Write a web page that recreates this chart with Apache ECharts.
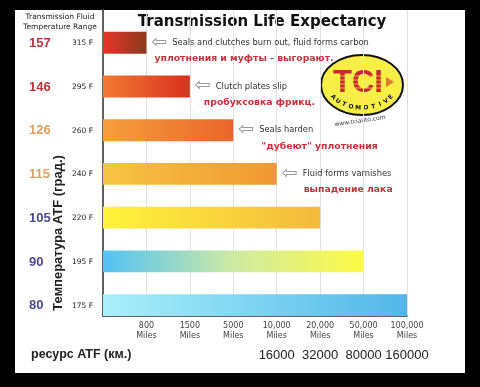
<!DOCTYPE html>
<html><head><meta charset="utf-8">
<script src="https://cdn.jsdelivr.net/npm/echarts@6/dist/echarts.min.js"></script>
<style>html,body{margin:0;padding:0;background:#000}#c{width:480px;height:387px}</style>
</head><body><div id="c"></div>
<script>
// ---- data ----
const tempC = ['157', '146', '126', '115', '105', '90', '80'];
const tempF = ['315 F', '295 F', '260 F', '240 F', '220 F', '195 F', '175 F'];
const mileTicks = ['800', '1500', '5000', '10,000', '20,000', '50,000', '100,000'];
const kmTicks = ['', '', '', '16000', '32000', '80000', '160000'];
const lifeMiles = ['800', '1500', '5000', '10,000', '20,000', '50,000', '100,000'];
const notesEn = ['Seals and clutches burn out, fluid forms carbon', 'Clutch plates slip', 'Seals harden', 'Fluid forms varnishes', '', '', ''];
const notesRu = ['уплотнения и муфты - выгорают.', 'пробуксовка фрикц.', '"дубеют" уплотнения', 'выпадение лака', '', '', ''];

// ---- styles ----
const barGrad = [
  ['#e8352a', '#8a3a1c'],
  ['#f27a34', '#d8301f'],
  ['#f5a03c', '#ea652b'],
  ['#f6c445', '#f09832'],
  ['#fff43c', '#f4b93c'],
  ['#52c2f5', '#cfe9a5', '#fdfb45'],
  ['#aaf0fa', '#52b6e8']
];
const cStyle = ['hot', 'hot', 'warm', 'warm', 'cool', 'cool', 'cool'];
const redIndent = [3, 9, 23, 22, 0, 0, 0];

function grad(cols) {
  return new echarts.graphic.LinearGradient(0, 0, 1, 0,
    cols.map((c, k) => ({ offset: k / (cols.length - 1), color: c })));
}

const chart = echarts.init(document.getElementById('c'), null, { renderer: 'canvas' });

const barData = lifeMiles.map((m, i) => {
  const item = { value: mileTicks.indexOf(m) + 1, itemStyle: { color: grad(barGrad[i]) } };
  if (notesEn[i]) {
    item.label = {
      show: true, position: 'right', distance: 5, offset: [0, 8],
      formatter: '{a|⇦}{t|' + notesEn[i] + '}\n{p| }{r|' + notesRu[i] + '}',
      rich: {
        a: { fontSize: 19, color: '#9a9a9a', lineHeight: 16, fontFamily: 'DejaVu Sans' },
        t: { fontSize: 8.3, color: '#333', lineHeight: 16, padding: [0, 0, 0, 5], fontFamily: 'DejaVu Sans' },
        p: { width: redIndent[i], lineHeight: 16, fontSize: 8 },
        r: { fontSize: 9.3, fontWeight: 'bold', color: '#c8303c', lineHeight: 16, fontFamily: 'DejaVu Sans' }
      }
    };
  }
  return item;
});

// arc letters for logo
const logoCx = 362, logoCy = 85;
const auto = 'AUTOMOTIVE'.split('');
const arcEls = auto.map((ch, k) => {
  const th = (148 - k * (116 / (auto.length - 1))) * Math.PI / 180;
  const x = logoCx + 34 * Math.cos(th);
  const y = logoCy + 23 * Math.sin(th);
  const tx = -34 * Math.sin(th), ty = 23 * Math.cos(th);
  const ang = Math.atan2(ty, tx);
  return {
    type: 'text', x: x, y: y, rotation: -(ang + Math.PI),
    style: { text: ch, fill: '#111', font: 'bold 6px "DejaVu Sans"', align: 'center', verticalAlign: 'middle' }
  };
});

const option = {
  backgroundColor: '#000',
  animation: false,
  grid: { left: 103, right: 73, top: 10, bottom: 71, containLabel: false },
  xAxis: [
    {
      type: 'value', min: 0, max: 7, interval: 1,
      axisLine: { show: true, lineStyle: { color: '#333', width: 1.5 } },
      axisTick: { show: false },
      splitLine: { show: true, lineStyle: { color: '#e2e2e2' } },
      axisLabel: {
        margin: 5, showMaxLabel: true, showMinLabel: true,
        formatter: v => v >= 1 ? mileTicks[v - 1] + '\nMiles' : '',
        fontSize: 8, lineHeight: 10, color: '#444', fontFamily: 'DejaVu Sans'
      }
    },
    {
      type: 'value', min: 0, max: 7, interval: 1, position: 'bottom', offset: 30,
      axisLine: { show: false }, axisTick: { show: false }, splitLine: { show: false },
      axisLabel: {
        margin: 3, showMaxLabel: true,
        formatter: v => v >= 1 ? kmTicks[v - 1] : '',
        fontSize: 13, color: '#222', fontFamily: 'Liberation Sans'
      }
    }
  ],
  yAxis: [
    {
      type: 'category', data: tempC, inverse: true,
      axisTick: { show: false },
      axisLine: { show: true, lineStyle: { color: '#d8d8d8' } },
      axisLabel: {
        margin: 8, padding: [23, 0, 0, 0],
        formatter: (v, i) => '{' + cStyle[i] + '|' + v + '}{f|' + tempF[i] + '}',
        rich: {
          hot: { width: 43, align: 'left', fontSize: 13, fontWeight: 'bold', color: '#b8323f', fontFamily: 'Liberation Sans' },
          warm: { width: 43, align: 'left', fontSize: 13, fontWeight: 'bold', color: '#d9a460', fontFamily: 'Liberation Sans' },
          cool: { width: 43, align: 'left', fontSize: 13, fontWeight: 'bold', color: '#4a4a8c', fontFamily: 'Liberation Sans' },
          f: { width: 23, align: 'left', fontSize: 7.5, color: '#222', fontFamily: 'DejaVu Sans' }
        }
      }
    },
    {
      type: 'category', data: tempC, inverse: true, position: 'right',
      axisTick: { show: false }, axisLabel: { show: false },
      axisLine: { show: true, lineStyle: { color: '#333', width: 1.5 } }
    }
  ],
  series: [
    {
      type: 'bar', silent: true, barGap: 0, barCategoryGap: 0,
      data: tempC.map(() => 0), itemStyle: { color: 'rgba(0,0,0,0)' }
    },
    {
      type: 'bar', barGap: 0, barCategoryGap: 0, silent: true,
      data: barData
    }
  ],
  graphic: [
    { type: 'rect', z: -100, shape: { x: 15, y: 10, width: 450, height: 363 }, style: { fill: '#fff' } },
    { type: 'text', x: 60, y: 17, style: { text: 'Transmission Fluid', font: '7.5px "DejaVu Sans"', fill: '#222', align: 'center', verticalAlign: 'middle' } },
    { type: 'text', x: 60, y: 27, style: { text: 'Temperature Range', font: '7.5px "DejaVu Sans"', fill: '#222', align: 'center', verticalAlign: 'middle' } },
    { type: 'text', x: 262, y: 22, style: { text: 'Transmission Life Expectancy', font: 'bold 15px "DejaVu Sans"', fill: '#111', align: 'center', verticalAlign: 'middle' } },
    { type: 'text', x: 58, y: 233, rotation: Math.PI / 2, style: { text: 'Температура ATF (град.)', font: 'bold 13px "Liberation Sans"', fill: '#222', align: 'center', verticalAlign: 'middle' } },
    { type: 'text', x: 31, y: 355, style: { text: 'ресурс ATF (км.)', font: 'bold 12.5px "Liberation Sans"', fill: '#222', align: 'left', verticalAlign: 'middle' } },
    { type: 'ellipse', shape: { cx: logoCx, cy: logoCy, rx: 41, ry: 30 }, style: { fill: '#f7ef45', stroke: '#111', lineWidth: 2 } },
    { type: 'text', x: 358, y: 83, style: { text: 'TCI', font: 'bold 31px "Liberation Sans"', fill: '#c8282e', align: 'center', verticalAlign: 'middle' } },
    { type: 'polygon', shape: { points: [[386, 77], [394, 82], [386, 87]] }, style: { fill: '#e07a2a' } },
    { type: 'line', shape: { x1: 333, y1: 76, x2: 385, y2: 76 }, style: { stroke: 'rgba(247,239,69,0.7)', lineWidth: 1 } },
    { type: 'line', shape: { x1: 333, y1: 80, x2: 385, y2: 80 }, style: { stroke: 'rgba(247,239,69,0.7)', lineWidth: 1 } },
    { type: 'line', shape: { x1: 333, y1: 84, x2: 385, y2: 84 }, style: { stroke: 'rgba(247,239,69,0.7)', lineWidth: 1 } },
    { type: 'line', shape: { x1: 333, y1: 88, x2: 385, y2: 88 }, style: { stroke: 'rgba(247,239,69,0.7)', lineWidth: 1 } },
    { type: 'text', x: 360, y: 121, rotation: 0.14, style: { text: 'www.tciauto.com', font: '6px "DejaVu Sans"', fill: '#333', align: 'center', verticalAlign: 'middle' } }
  ].concat(arcEls)
};
chart.setOption(option);
</script>
</body></html>
